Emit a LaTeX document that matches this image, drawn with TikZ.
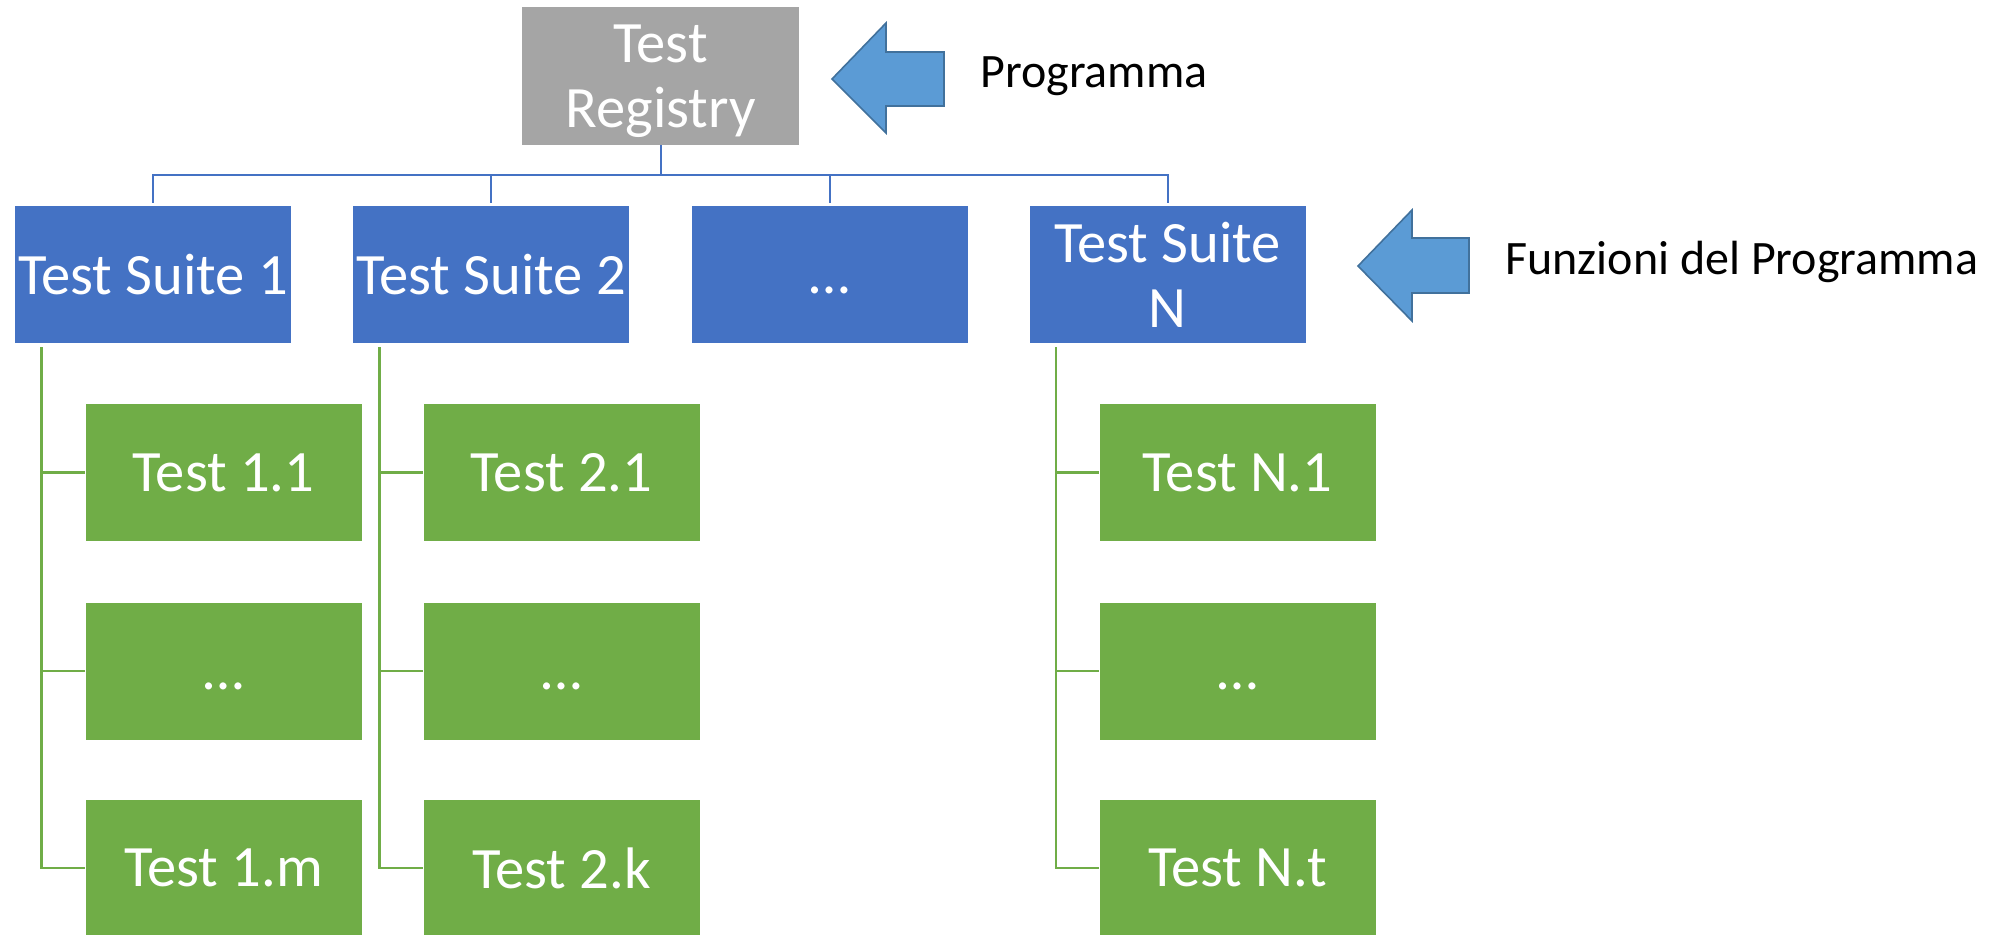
\documentclass[tikz,border=0pt]{standalone}
\usepackage{fontspec}
\setmainfont{Carlito}
\definecolor{regGray}{HTML}{A5A5A5}
\definecolor{suiteBlue}{HTML}{4472C4}
\definecolor{testGreen}{HTML}{70AD47}
\definecolor{arrFill}{HTML}{5B9BD5}
\definecolor{arrEdge}{HTML}{41719C}
\tikzset{
  box/.style={rectangle, inner sep=0pt, minimum width=138pt, minimum height=68.5pt,
    text=white, align=center, font=\fontsize{29.3}{32.5}\selectfont},
  regbox/.style={box, fill=regGray, minimum width=138.5pt, minimum height=69pt, text depth=0pt},
  suitebox/.style={box, fill=suiteBlue},
  testbox/.style={box, fill=testGreen},
  bline/.style={draw=suiteBlue, line width=1pt},
  gline/.style={draw=testGreen, line width=1.2pt},
  blockarrow/.style={fill=arrFill, draw=arrEdge, line width=0.8pt, line join=miter},
  lbl/.style={inner sep=0pt, anchor=base west, font=\fontsize{24}{28}\selectfont}
}
\newcommand{\dotsT}{\vphantom{T}…}
\begin{document}
\begin{tikzpicture}[x=0.5pt,y=-0.5pt]
\useasboundingbox (0,0) rectangle (2005,935);

% top
\node[regbox] (reg) at (660.5,76) {Test\\Registry};

% suites
\node[suitebox] (s1) at (153,274.5) {Test Suite 1};
\node[suitebox] (s2) at (491,274.5) {Test Suite 2};
\node[suitebox] (s3) at (829.5,274.5) {\dotsT};
\node[suitebox] (sN) at (1167.5,274.5) {Test Suite\\N};

% tests
\node[testbox] (t11) at (223.5,472.5) {Test 1.1};
\node[testbox] (t12) at (223.5,671) {\dotsT};
\node[testbox] (t1m) at (223.5,868) {Test 1.m};
\node[testbox] (t21) at (561.5,472.5) {Test 2.1};
\node[testbox] (t22) at (561.5,671) {\dotsT};
\node[testbox] (t2k) at (561.5,868) {Test 2.k};
\node[testbox] (tN1) at (1237.5,472.5) {Test N.1};
\node[testbox] (tN2) at (1237.5,671) {\dotsT};
\node[testbox] (tNt) at (1237.5,868) {Test N.t};

% blue connectors
\coordinate (bar) at (660.5,175);
\draw[bline] (reg.south) -- (bar);
\foreach \s in {s1,s2,s3,sN}{
  \draw[bline, shorten >=1.5pt] (bar) -| (\s.north);
}

% green connectors
\coordinate (g1) at ([xshift=13.5pt,yshift=-2pt]s1.south west);
\coordinate (g2) at ([xshift=13.5pt,yshift=-2pt]s2.south west);
\coordinate (gN) at ([xshift=13.5pt,yshift=-2pt]sN.south west);
\foreach \t in {t11,t12,t1m}{ \draw[gline] (g1) |- (\t.west); }
\foreach \t in {t21,t22,t2k}{ \draw[gline] (g2) |- (\t.west); }
\foreach \t in {tN1,tN2,tNt}{ \draw[gline] (gN) |- (\t.west); }

% block arrows
\draw[blockarrow] (832,79) coordinate (a1tip) -- (886,23) -- (886,52) -- (944,52)
  -- (944,106) -- (886,106) -- (886,133) -- cycle;
\draw[blockarrow] (1358,266) coordinate (a2tip) -- (1412,210) -- (1412,238) -- (1469,238)
  -- (1469,293) -- (1412,293) -- (1412,321) -- cycle;

% labels
\node[lbl] (lprog) at (980,88) {Programma};
\node[lbl] (lfunz) at (1505,275) {Funzioni del Programma};
\end{tikzpicture}
\end{document}
